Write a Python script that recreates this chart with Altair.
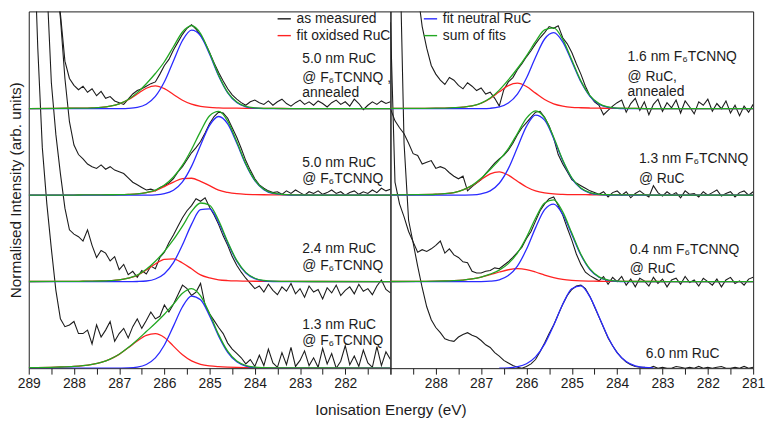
import altair as alt
import pandas as pd

# ---------------- energy grids ----------------
E_MEAS = [round(289.0 - 0.1 * i, 1) for i in range(81)]
E_FIT = [289.0, 288.4, 288.0, 287.8, 287.6, 287.4, 287.2, 287.0, 286.8, 286.6,
         286.4, 286.2, 286.0, 285.8, 285.6, 285.4, 285.2, 285.0, 284.8, 284.6,
         284.4, 284.2, 284.0, 283.8, 283.6, 283.2, 282.6, 281.0]
E_FIT_RD = [286.6, 286.4, 286.2, 286.0, 285.8, 285.6, 285.4, 285.2, 285.0, 284.8,
            284.6, 284.4, 284.2, 284.0, 283.8, 283.6, 283.4, 283.2]

# ---------------- measured spectra (relative to own baseline) ----------------
MEAS_LA = [6.0, 5.0, 4.2, 3.4, 2.7, 2.1, 1.6, 1.1, 0.55, 0.35,
           0.27, 0.22, 0.26, 0.19, 0.23, 0.15, 0.20, 0.12, 0.14, 0.09,
           0.07, 0.05, 0.11, 0.17, 0.21, 0.23, 0.26, 0.29, 0.31, 0.40,
           0.50, 0.57, 0.68, 0.77, 0.86, 0.93, 0.97, 0.92, 0.85, 0.76,
           0.65, 0.53, 0.42, 0.32, 0.23, 0.16, 0.11, 0.07, 0.04, 0.08,
           0.10, 0.07, 0.05, 0.09, 0.04, 0.08, 0.11, 0.06, 0.03, 0.07,
           0.10, 0.05, 0.08, 0.04, 0.09, 0.06, 0.02, 0.07, 0.10, 0.05,
           0.08, 0.03, 0.11, 0.06, -0.01, 0.04, 0.08, 0.05, 0.09, 0.06,
           0.08]
MEAS_LB = [7.0, 6.2, 5.3, 4.4, 3.6, 2.9, 2.55, 2.05, 1.35, 0.85,
           0.58, 0.47, 0.42, 0.36, 0.33, 0.31, 0.35, 0.30, 0.33, 0.29,
           0.27, 0.25, 0.20, 0.15, 0.12, 0.09, 0.06, 0.07, 0.05, 0.09,
           0.11, 0.14, 0.19, 0.27, 0.33, 0.41, 0.49, 0.55, 0.62, 0.72,
           0.83, 0.91, 0.96, 0.95, 0.89, 0.78, 0.67, 0.54, 0.40, 0.29,
           0.19, 0.12, 0.08, 0.05, 0.03, 0.04, 0.01, 0.05, 0.02, 0.06,
           0.03, 0.00, 0.04, 0.02, 0.05, 0.01, 0.03, 0.06, 0.02, 0.04,
           0.00, 0.03, 0.05, 0.01, 0.04, 0.02, 0.06, 0.03, 0.08, 0.05,
           0.07]
MEAS_LC = [8.0, 7.0, 5.8, 4.6, 3.45, 2.3, 1.7, 1.25, 0.85, 0.60,
           0.55, 0.52, 0.47, 0.60, 0.42, 0.28, 0.36, 0.33, 0.24, 0.29,
           0.14, 0.20, 0.08, 0.12, 0.05, 0.13, 0.09, 0.18, 0.15, 0.28,
           0.34, 0.45, 0.54, 0.64, 0.74, 0.82, 0.88, 0.96, 0.93, 0.97,
           0.86, 0.77, 0.66, 0.53, 0.42, 0.29, 0.19, 0.11, 0.04, -0.02,
           -0.08, -0.05, -0.12, -0.03, -0.10, -0.15, -0.06, -0.11, -0.02, -0.14,
           -0.08, -0.18, -0.05, -0.12, -0.09, -0.20, -0.07, -0.13, -0.04, -0.16,
           -0.10, -0.06, -0.14, -0.03, -0.11, -0.08, -0.15, -0.05, 0.02, -0.09,
           -0.13]
MEAS_LD = [7.0, 5.2, 3.7, 2.55, 1.9, 1.38, 0.9, 0.57, 0.48, 0.50,
           0.54, 0.40, 0.40, 0.44, 0.28, 0.50, 0.36, 0.44, 0.54, 0.31,
           0.40, 0.46, 0.35, 0.48, 0.57, 0.46, 0.55, 0.65, 0.57, 0.60,
           0.73, 0.65, 0.74, 0.85, 0.96, 0.92, 0.84, 0.88, 0.98, 0.73,
           0.63, 0.55, 0.47, 0.40, 0.29, 0.22, 0.17, 0.12, 0.05, 0.10,
           0.02, 0.15, 0.03, 0.22, 0.06, 0.01, 0.18, 0.04, 0.24, 0.02,
           0.09, 0.20, 0.03, 0.12, 0.01, 0.23, 0.05, 0.17, 0.00, 0.08,
           0.26, 0.04, 0.14, 0.02, 0.21, 0.06, 0.01, 0.25, 0.03, 0.19,
           0.10]
MEAS_RA = [6.0, 5.0, 4.1, 3.3, 2.6, 1.95, 1.35, 0.95, 0.70, 0.50,
           0.40, 0.33, 0.28, 0.36, 0.33, 0.27, 0.23, 0.30, 0.26, 0.21,
           0.24, 0.17, 0.19, 0.12, 0.03, 0.22, 0.31, 0.36, 0.45, 0.52,
           0.60, 0.67, 0.75, 0.82, 0.88, 0.95, 0.93, 0.96, 0.82, 0.75,
           0.65, 0.52, 0.40, 0.26, 0.15, 0.08, 0.04, -0.07, -0.02, 0.03,
           0.07, 0.10, -0.04, 0.06, 0.12, -0.02, 0.08, -0.07, 0.05, 0.11,
           -0.03, 0.07, 0.01, 0.10, -0.05, 0.09, 0.02, -0.06, 0.08, 0.04,
           0.11, -0.03, 0.06, 0.00, 0.09, -0.05, 0.04, -0.08, 0.03, -0.04,
           0.05]
MEAS_RB = [1.0, 0.86, 0.78, 0.71, 0.60, 0.48, 0.46, 0.36, 0.38, 0.40,
           0.31, 0.33, 0.31, 0.26, 0.22, 0.19, 0.22, 0.05, 0.10, 0.14,
           0.18, 0.25, 0.31, 0.37, 0.42, 0.46, 0.52, 0.60, 0.70, 0.78,
           0.84, 0.90, 0.96, 0.97, 0.90, 0.80, 0.66, 0.47, 0.36, 0.27,
           0.18, 0.14, 0.11, 0.08, 0.05, 0.03, 0.01, 0.04, -0.02, 0.03,
           0.05, 0.00, 0.04, -0.03, 0.02, 0.05, 0.01, -0.02, 0.11, 0.03,
           -0.01, 0.04, 0.00, 0.03, -0.03, 0.05, 0.01, 0.02, -0.02, 0.04,
           0.00, 0.03, 0.06, -0.01, 0.02, 0.04, -0.02, 0.03, 0.05, 0.00,
           0.04]
MEAS_RC = [3.0, 1.15, 0.90, 0.75, 0.58, 0.46, 0.34, 0.37, 0.35, 0.38,
           0.42, 0.47, 0.33, 0.38, 0.31, 0.28, 0.23, 0.22, 0.12, 0.10,
           0.10, 0.12, 0.13, 0.16, 0.15, 0.19, 0.23, 0.28, 0.34, 0.40,
           0.50, 0.58, 0.70, 0.82, 0.90, 0.96, 0.98, 0.88, 0.77, 0.62,
           0.48, 0.32, 0.20, 0.11, 0.07, 0.04, 0.01, 0.06, -0.03, 0.05,
           0.00, 0.06, -0.04, 0.03, -0.06, 0.04, 0.01, -0.05, 0.05, -0.02,
           0.03, -0.06, 0.02, 0.04, -0.03, 0.06, -0.01, 0.02, -0.05, 0.04,
           0.00, -0.04, 0.03, -0.06, 0.02, 0.05, -0.02, 0.01, -0.04, 0.03,
           0.05]
MEAS_RD = [9.0, 7.0, 5.0, 2.6, 1.71, 1.45, 1.18, 0.93, 0.71, 0.56,
           0.47, 0.41, 0.34, 0.32, 0.31, 0.36, 0.39, 0.41, 0.38, 0.36,
           0.32, 0.27, 0.24, 0.18, 0.14, 0.09, 0.06, 0.03, 0.01, 0.00,
           0.02, 0.05, 0.10, 0.19, 0.29, 0.40, 0.50, 0.62, 0.74, 0.84,
           0.91, 0.95, 0.96, 0.92, 0.83, 0.71, 0.59, 0.47, 0.35, 0.26,
           0.18, 0.12, 0.07, 0.04, 0.02, 0.01, 0.01, 0.00, 0.02, 0.00,
           0.01, 0.00, 0.00, 0.02, 0.01, 0.00, 0.01, 0.00, 0.02, 0.00,
           0.01, 0.00, 0.01, 0.02, 0.00, 0.00, 0.01, 0.00, 0.02, 0.00,
           0.01]

# ---------------- fits (on E_FIT) ----------------
RED_LA = [0.002, 0.004, 0.006, 0.007, 0.010, 0.015, 0.029, 0.056, 0.103, 0.171,
          0.237, 0.265, 0.232, 0.164, 0.098, 0.052, 0.027, 0.015, 0.010, 0.007,
          0.006, 0.005, 0.004, 0.003, 0.003, 0.002, 0.002, 0.001]
BLUE_LA = [0, 0, 0, 0, 0, 0, 0, 0.001, 0.004, 0.015,
           0.052, 0.142, 0.311, 0.552, 0.789, 0.908, 0.842, 0.629, 0.378, 0.183,
           0.072, 0.022, 0.006, 0.001, 0, 0, 0, 0]
SUM_LA = [0.002, 0.004, 0.006, 0.007, 0.010, 0.015, 0.029, 0.057, 0.107, 0.186,
          0.289, 0.407, 0.543, 0.716, 0.887, 0.960, 0.869, 0.644, 0.388, 0.190,
          0.078, 0.027, 0.010, 0.004, 0.003, 0.002, 0.002, 0.001]

RED_LB = [0.001, 0.002, 0.002, 0.003, 0.003, 0.004, 0.005, 0.006, 0.009, 0.015,
          0.030, 0.054, 0.100, 0.152, 0.192, 0.196, 0.160, 0.110, 0.058, 0.032,
          0.017, 0.010, 0.007, 0.005, 0.004, 0.003, 0.002, 0.001]
BLUE_LB = [0, 0, 0, 0, 0, 0, 0, 0, 0, 0,
           0.001, 0.004, 0.017, 0.058, 0.155, 0.333, 0.578, 0.808, 0.910, 0.825,
           0.603, 0.355, 0.168, 0.064, 0.020, 0.001, 0, 0]
SUM_LB = [0.001, 0.002, 0.002, 0.003, 0.003, 0.004, 0.005, 0.006, 0.009, 0.015,
          0.031, 0.058, 0.117, 0.210, 0.347, 0.529, 0.738, 0.918, 0.968, 0.857,
          0.620, 0.365, 0.175, 0.069, 0.024, 0.004, 0.002, 0.001]

RED_LC = [0.002, 0.003, 0.004, 0.005, 0.006, 0.008, 0.012, 0.020, 0.041, 0.073,
          0.135, 0.205, 0.259, 0.265, 0.216, 0.149, 0.078, 0.043, 0.022, 0.013,
          0.009, 0.007, 0.005, 0.005, 0.004, 0.003, 0.002, 0.001]
BLUE_LC = [0, 0, 0, 0, 0, 0, 0, 0, 0, 0.002,
           0.008, 0.031, 0.092, 0.220, 0.426, 0.663, 0.832, 0.841, 0.685, 0.449,
           0.237, 0.101, 0.035, 0.009, 0.002, 0, 0, 0]
SUM_LC = [0.002, 0.003, 0.004, 0.005, 0.006, 0.008, 0.012, 0.020, 0.041, 0.075,
          0.143, 0.236, 0.351, 0.485, 0.642, 0.812, 0.910, 0.884, 0.707, 0.462,
          0.246, 0.108, 0.040, 0.014, 0.006, 0.003, 0.002, 0.001]

RED_LD = [0.006, 0.012, 0.020, 0.030, 0.045, 0.068, 0.105, 0.160, 0.235, 0.315,
          0.380, 0.400, 0.355, 0.255, 0.155, 0.085, 0.045, 0.026, 0.017, 0.012,
          0.009, 0.007, 0.006, 0.005, 0.004, 0.003, 0.002, 0.001]
BLUE_LD = [0, 0, 0, 0, 0, 0, 0, 0.001, 0.003, 0.012,
           0.043, 0.119, 0.268, 0.486, 0.710, 0.834, 0.790, 0.603, 0.371, 0.184,
           0.073, 0.024, 0.006, 0.001, 0, 0, 0, 0]
SUM_LD = [0.006, 0.012, 0.020, 0.030, 0.045, 0.068, 0.105, 0.161, 0.238, 0.327,
          0.423, 0.519, 0.623, 0.741, 0.865, 0.919, 0.835, 0.629, 0.388, 0.196,
          0.082, 0.031, 0.012, 0.006, 0.004, 0.003, 0.002, 0.001]

RED_RA = [0.003, 0.004, 0.006, 0.008, 0.012, 0.018, 0.032, 0.063, 0.118, 0.195,
          0.267, 0.295, 0.257, 0.180, 0.106, 0.056, 0.030, 0.016, 0.011, 0.008,
          0.006, 0.005, 0.004, 0.004, 0.003, 0.002, 0.002, 0.001]
BLUE_RA = [0, 0, 0, 0, 0, 0, 0, 0.001, 0.005, 0.020,
           0.066, 0.170, 0.355, 0.596, 0.806, 0.879, 0.772, 0.546, 0.311, 0.143,
           0.053, 0.016, 0.004, 0.001, 0, 0, 0, 0]
SUM_RA = [0.003, 0.004, 0.006, 0.008, 0.012, 0.018, 0.032, 0.064, 0.123, 0.215,
          0.333, 0.465, 0.612, 0.776, 0.912, 0.935, 0.802, 0.562, 0.322, 0.151,
          0.059, 0.021, 0.008, 0.005, 0.003, 0.002, 0.002, 0.001]

RED_RB = [0.004, 0.006, 0.011, 0.017, 0.031, 0.061, 0.111, 0.181, 0.247, 0.270,
          0.232, 0.162, 0.095, 0.050, 0.027, 0.015, 0.010, 0.007, 0.006, 0.005,
          0.004, 0.004, 0.003, 0.003, 0.003, 0.002, 0.002, 0.001]
BLUE_RB = [0, 0, 0, 0, 0, 0.001, 0.003, 0.015, 0.050, 0.138,
           0.307, 0.551, 0.796, 0.926, 0.868, 0.655, 0.398, 0.195, 0.077, 0.025,
           0.006, 0.001, 0, 0, 0, 0, 0, 0]
SUM_RB = [0.004, 0.006, 0.011, 0.017, 0.031, 0.062, 0.114, 0.196, 0.297, 0.408,
          0.539, 0.713, 0.891, 0.976, 0.895, 0.670, 0.408, 0.202, 0.083, 0.030,
          0.010, 0.005, 0.003, 0.003, 0.003, 0.002, 0.002, 0.001]

RED_RC = [0.002, 0.004, 0.006, 0.008, 0.012, 0.019, 0.032, 0.053, 0.082, 0.112,
          0.138, 0.150, 0.140, 0.112, 0.077, 0.047, 0.027, 0.016, 0.010, 0.007,
          0.005, 0.004, 0.003, 0.003, 0.002, 0.002, 0.001, 0.001]
BLUE_RC = [0, 0, 0, 0, 0, 0, 0, 0.001, 0.006, 0.022,
           0.071, 0.181, 0.374, 0.622, 0.833, 0.898, 0.780, 0.546, 0.308, 0.140,
           0.051, 0.015, 0.004, 0.001, 0, 0, 0, 0]
SUM_RC = [0.002, 0.004, 0.006, 0.008, 0.012, 0.019, 0.032, 0.054, 0.088, 0.134,
          0.209, 0.331, 0.514, 0.734, 0.910, 0.945, 0.807, 0.562, 0.318, 0.147,
          0.056, 0.019, 0.007, 0.004, 0.002, 0.002, 0.001, 0.001]

BLUE_RD = [0.001, 0.004, 0.017, 0.051, 0.130, 0.278, 0.496, 0.739, 0.919, 0.952,
           0.824, 0.595, 0.358, 0.180, 0.076, 0.026, 0.008, 0.002]

# ---------------- annotations ----------------
LEFT_LABELS = ["5.0 nm RuC", "@ F\u2086TCNNQ ,", "annealed", "5.0 nm RuC", "@ F\u2086TCNNQ",
               "2.4 nm RuC", "@ F\u2086TCNNQ", "1.3 nm RuC", "@ F\u2086TCNNQ"]
LEFT_LABEL_V = [3.58, 3.36, 3.18, 2.37, 2.19, 1.38, 1.18, 0.50, 0.31]
LEFT_LABEL_E = [282.95] * 9
RIGHT_LABELS = ["1.6 nm F\u2086TCNNQ", "@ RuC,", "annealed", "1.3 nm F\u2086TCNNQ", "@ RuC",
                "0.4 nm F\u2086TCNNQ", "@ RuC", "6.0 nm RuC"]
RIGHT_LABEL_V = [3.60, 3.37, 3.19, 2.42, 2.19, 1.37, 1.15, 0.16]
RIGHT_LABEL_E = [283.77, 283.77, 283.77, 283.52, 283.52, 283.72, 283.72, 283.37]

SERIES_A = ["as measured", "fit oxidsed RuC"]
SERIES_B = ["fit neutral RuC", "sum of fits"]
COLORS_A = ["#1c1c1c", "#ff2222"]
COLORS_B = ["#2a2aff", "#22a822"]

X_TICKS = [289, 288.5, 288, 287.5, 287, 286.5, 286, 285.5, 285, 284.5,
           284, 283.5, 283, 282.5, 282, 281.5, 281]

FONT = "Liberation Sans"
INK = "#1c1c1c"


def build(spectra, energies, offsets, series):
    rows = []
    for (name, vals), off in zip(spectra, offsets):
        for e, v in zip(energies, vals):
            rows.append({"E": e, "v": v + off, "spec": name, "series": series})
    return pd.DataFrame(rows)


OFF = [3, 2, 1, 0]
L_meas = build([("A", MEAS_LA), ("B", MEAS_LB), ("C", MEAS_LC), ("D", MEAS_LD)], E_MEAS, OFF, "as measured")
L_red = build([("A", RED_LA), ("B", RED_LB), ("C", RED_LC), ("D", RED_LD)], E_FIT, OFF, "fit oxidsed RuC")
L_blue = build([("A", BLUE_LA), ("B", BLUE_LB), ("C", BLUE_LC), ("D", BLUE_LD)], E_FIT, OFF, "fit neutral RuC")
L_sum = build([("A", SUM_LA), ("B", SUM_LB), ("C", SUM_LC), ("D", SUM_LD)], E_FIT, OFF, "sum of fits")

R_meas = build([("A", MEAS_RA), ("B", MEAS_RB), ("C", MEAS_RC), ("D", MEAS_RD)], E_MEAS, OFF, "as measured")
R_red = build([("A", RED_RA), ("B", RED_RB), ("C", RED_RC)], E_FIT, OFF[:3], "fit oxidsed RuC")
R_blue = pd.concat([
    build([("A", BLUE_RA), ("B", BLUE_RB), ("C", BLUE_RC)], E_FIT, OFF[:3], "fit neutral RuC"),
    build([("D", BLUE_RD)], E_FIT_RD, [0], "fit neutral RuC"),
])
R_sum = build([("A", SUM_RA), ("B", SUM_RB), ("C", SUM_RC)], E_FIT, OFF[:3], "sum of fits")

L_lab = pd.DataFrame({"E": LEFT_LABEL_E, "v": LEFT_LABEL_V, "label": LEFT_LABELS})
R_lab = pd.DataFrame({"E": RIGHT_LABEL_E, "v": RIGHT_LABEL_V, "label": RIGHT_LABELS})


def legend(x, y):
    return alt.Legend(title=None, orient="none", legendX=x, legendY=y,
                      symbolType="stroke", symbolSize=180, symbolStrokeWidth=1.4,
                      labelFontSize=14, labelFont=FONT, labelColor=INK,
                      rowPadding=2, labelOffset=5, padding=0)


def panel(meas, red, blue, ssum, labs, is_left, width):
    if is_left:
        xaxis = alt.Axis(values=X_TICKS,
                         labelExpr="(datum.value % 1 === 0 && datum.value > 281.5) ? datum.value : ''",
                         title="Ionisation Energy (eV)", titleX=width, titleY=47,
                         titleAlign="center", titleBaseline="alphabetic")
        yaxis = alt.Axis(title="Normalised  Intensity (arb. units)", labels=False, ticks=False,
                         domain=False, grid=False, titlePadding=5)
        leg_a, leg_b = legend(251, 0), None
    else:
        xaxis = alt.Axis(values=X_TICKS,
                         labelExpr="(datum.value % 1 === 0 && datum.value < 288.5) ? datum.value : ''",
                         title=None)
        yaxis = None
        leg_a, leg_b = None, legend(33, 0)

    x = alt.X("E:Q", scale=alt.Scale(domain=[289, 281], nice=False, zero=False), axis=xaxis)
    y = alt.Y("v:Q", scale=alt.Scale(domain=[0, 4.125], nice=False, zero=False), axis=yaxis)
    col = alt.Color("series:N", scale=alt.Scale(domain=SERIES_A, range=COLORS_A), legend=leg_a)
    stk = alt.Stroke("series:N", scale=alt.Scale(domain=SERIES_B, range=COLORS_B), legend=leg_b)

    m = alt.Chart(meas).mark_line(clip=True, strokeWidth=1.1).encode(x=x, y=y, detail="spec:N", color=col)
    r = alt.Chart(red).mark_line(clip=True, strokeWidth=1.3, interpolate="monotone").encode(
        x=x, y=y, detail="spec:N", color=col)
    b = alt.Chart(blue).mark_line(clip=True, strokeWidth=1.3, interpolate="monotone").encode(
        x=x, y=y, detail="spec:N", stroke=stk)
    g = alt.Chart(ssum).mark_line(clip=True, strokeWidth=1.3, interpolate="monotone").encode(
        x=x, y=y, detail="spec:N", stroke=stk)
    t = alt.Chart(labs).mark_text(align="left", baseline="middle", fontSize=14, font=FONT,
                                  color=INK).encode(x=x, y=y, text="label:N")
    return alt.layer(m, r, b, g, t).properties(width=width, height=361)


left = panel(L_meas, L_red, L_blue, L_sum, L_lab, True, 366)
right = panel(R_meas, R_red, R_blue, R_sum, R_lab, False, 367)

chart = alt.hconcat(left, right, spacing=0, bounds="flush").resolve_scale(
    color="independent", stroke="independent", x="independent", y="independent"
).properties(padding=0).configure(font=FONT).configure_view(
    stroke=INK, strokeWidth=1
).configure_axis(
    grid=False, domain=False, tickSize=6, tickColor=INK, tickWidth=1,
    labelFontSize=14, labelColor=INK, labelFont=FONT, labelFlush=False, labelOverlap=False,
    labelPadding=3, titleFontSize=15.5, titleFont=FONT, titleFontWeight="normal", titleColor=INK
)

chart.save("out.html", embed_options={"renderer": "svg", "actions": False})
